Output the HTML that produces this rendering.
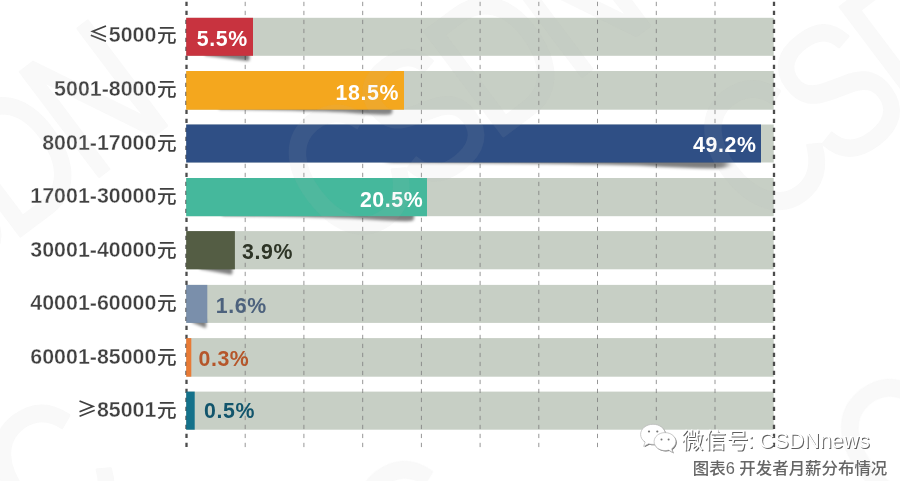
<!DOCTYPE html>
<html lang="zh-CN">
<head>
<meta charset="utf-8">
<title>图表6 开发者月薪分布情况</title>
<style>
html,body{margin:0;padding:0;background:#fff;}
body{width:900px;height:481px;overflow:hidden;position:relative;font-family:"Liberation Sans", "Noto Sans CJK SC", sans-serif;}
svg{display:block;position:absolute;left:0;top:0;}
.lab{font-family:"Liberation Sans", "Noto Sans CJK SC", sans-serif;font-weight:700;font-size:21.4px;fill:#404040;stroke:#fff;stroke-width:0.35px;}
.sym{font-family:"Noto Sans CJK SC", sans-serif;font-weight:500;font-size:20.3px;stroke:none;}
.yuan{font-family:"Noto Sans CJK SC", sans-serif;font-weight:500;font-size:19.6px;stroke:none;}
.val{font-family:"Liberation Sans", "Noto Sans CJK SC", sans-serif;font-weight:700;font-size:21.3px;letter-spacing:0.6px;}
.cap{font-family:"Liberation Sans", "Noto Sans CJK SC", sans-serif;font-weight:500;font-size:16.45px;fill:#666;}
.wx{font-family:"Liberation Sans", "Noto Sans CJK SC", sans-serif;font-weight:400;font-size:21.4px;}
.wxc{font-size:22px;letter-spacing:0.5px;}
.wm{font-family:"Liberation Sans", "Noto Sans CJK SC", sans-serif;font-weight:400;font-size:190px;fill:#b4b4b4;stroke:#b4b4b4;stroke-width:3px;stroke-linejoin:round;}
#wm{opacity:0.09;}
</style>
</head>
<body>
<svg width="900" height="481" viewBox="0 0 900 481">

<rect x="186.2" y="17.80" width="587.5" height="38.00" fill="#c7cfc5"/>
<rect x="186.2" y="71.00" width="587.5" height="38.70" fill="#c7cfc5"/>
<rect x="186.2" y="124.50" width="587.5" height="38.00" fill="#c7cfc5"/>
<rect x="186.2" y="178.00" width="587.5" height="38.20" fill="#c7cfc5"/>
<rect x="186.2" y="231.10" width="587.5" height="38.20" fill="#c7cfc5"/>
<rect x="186.2" y="284.90" width="587.5" height="38.00" fill="#c7cfc5"/>
<rect x="186.2" y="338.10" width="587.5" height="38.60" fill="#c7cfc5"/>
<rect x="186.2" y="391.60" width="587.5" height="38.10" fill="#c7cfc5"/>
<line x1="245.2" y1="1.8" x2="245.2" y2="447.2" stroke="#7d7d7d" stroke-width="1" stroke-dasharray="4.3 4.7" opacity="0.8"/>
<line x1="303.9" y1="1.8" x2="303.9" y2="447.2" stroke="#7d7d7d" stroke-width="1" stroke-dasharray="4.3 4.7" opacity="0.8"/>
<line x1="362.7" y1="1.8" x2="362.7" y2="447.2" stroke="#7d7d7d" stroke-width="1" stroke-dasharray="4.3 4.7" opacity="0.8"/>
<line x1="421.4" y1="1.8" x2="421.4" y2="447.2" stroke="#7d7d7d" stroke-width="1" stroke-dasharray="4.3 4.7" opacity="0.8"/>
<line x1="480.1" y1="1.8" x2="480.1" y2="447.2" stroke="#7d7d7d" stroke-width="1" stroke-dasharray="4.3 4.7" opacity="0.8"/>
<line x1="538.8" y1="1.8" x2="538.8" y2="447.2" stroke="#7d7d7d" stroke-width="1" stroke-dasharray="4.3 4.7" opacity="0.8"/>
<line x1="597.5" y1="1.8" x2="597.5" y2="447.2" stroke="#7d7d7d" stroke-width="1" stroke-dasharray="4.3 4.7" opacity="0.8"/>
<line x1="656.3" y1="1.8" x2="656.3" y2="447.2" stroke="#7d7d7d" stroke-width="1" stroke-dasharray="4.3 4.7" opacity="0.8"/>
<line x1="715.0" y1="1.8" x2="715.0" y2="447.2" stroke="#7d7d7d" stroke-width="1" stroke-dasharray="4.3 4.7" opacity="0.8"/>
<line x1="186.5" y1="1.8" x2="186.5" y2="447.2" stroke="#4c4c4c" stroke-width="2.3" stroke-dasharray="4.2 4.8"/>
<line x1="774.0" y1="1.8" x2="774.0" y2="447.2" stroke="#4c4c4c" stroke-width="2.3" stroke-dasharray="4.2 4.8"/>
<filter id="sh17" x="-10%" y="-100%" width="125%" height="400%"><feGaussianBlur stdDeviation="2.246 1.5"/></filter>
<g transform="translate(186.2,55.8) scale(0.6680,1)"><path d="M28,-3 L94.8,-3 L94.8,3.6 Q94.6,5.2 91,5.1 L28,-0.4 Z" fill="#000" opacity="0.5" filter="url(#sh17)"/></g>
<rect x="186.2" y="17.80" width="66.8" height="38.00" fill="#c8333f"/>
<text class="val" x="222.30" y="45.5" text-anchor="middle" fill="#ffffff">5.5%</text>
<text class="lab" x="176.6" y="41.6" text-anchor="end"><tspan class="sym">≤</tspan>5000<tspan class="yuan" dx="0.6">元</tspan></text>
<filter id="sh71" x="-10%" y="-100%" width="125%" height="400%"><feGaussianBlur stdDeviation="0.826 1.5"/></filter>
<g transform="translate(186.2,109.7) scale(2.1780,1)"><path d="M15,-3 L94.6,-3 L94.6,2.6 Q94.6,5.1 91.5,5.1 Q84,4.8 72,2.6 Q55,0.6 15,-0.4 Z" fill="#000" opacity="0.5" filter="url(#sh71)"/></g>
<rect x="186.2" y="71.00" width="217.8" height="38.70" fill="#f4a71e"/>
<text class="val" x="367.30" y="99.7" text-anchor="middle" fill="#ffffff">18.5%</text>
<text class="lab" x="176.6" y="95.7" text-anchor="end">5001-8000<tspan class="yuan" dx="0.6">元</tspan></text>
<filter id="sh124" x="-10%" y="-100%" width="125%" height="400%"><feGaussianBlur stdDeviation="0.609 1.5"/></filter>
<g transform="translate(186.2,162.5) scale(5.7480,1)"><path d="M35,-3 L94.2,-3 L94.2,2.8 Q94.2,5.9 92.2,5.9 Q86,5.8 79,3 Q70,1 35,0 Z" fill="#000" opacity="0.5" filter="url(#sh124)"/></g>
<rect x="186.2" y="124.50" width="574.8" height="38.00" fill="#2f4f85"/>
<text class="val" x="724.80" y="152.3" text-anchor="middle" fill="#ffffff">49.2%</text>
<text class="lab" x="176.6" y="149.8" text-anchor="end">8001-17000<tspan class="yuan" dx="0.6">元</tspan></text>
<filter id="sh178" x="-10%" y="-100%" width="125%" height="400%"><feGaussianBlur stdDeviation="0.748 1.5"/></filter>
<g transform="translate(186.2,216.2) scale(2.4080,1)"><path d="M15,-3 L94.6,-3 L94.6,2.6 Q94.6,5.1 91.5,5.1 Q84,4.8 72,2.6 Q55,0.6 15,-0.4 Z" fill="#000" opacity="0.5" filter="url(#sh178)"/></g>
<rect x="186.2" y="178.00" width="240.8" height="38.20" fill="#45b89c"/>
<text class="val" x="391.60" y="206.8" text-anchor="middle" fill="#ffffff">20.5%</text>
<text class="lab" x="176.6" y="203.4" text-anchor="end">17001-30000<tspan class="yuan" dx="0.6">元</tspan></text>
<filter id="sh231" x="-10%" y="-100%" width="125%" height="400%"><feGaussianBlur stdDeviation="3.080 1.5"/></filter>
<g transform="translate(186.2,269.3) scale(0.4870,1)"><path d="M28,-3 L94.8,-3 L94.8,3.6 Q94.6,5.2 91,5.1 L28,-0.4 Z" fill="#000" opacity="0.5" filter="url(#sh231)"/></g>
<rect x="186.2" y="231.10" width="48.7" height="38.20" fill="#545d44"/>
<text class="val" x="267.50" y="258.9" text-anchor="middle" fill="#2d3426">3.9%</text>
<text class="lab" x="176.6" y="256.9" text-anchor="end">30001-40000<tspan class="yuan" dx="0.6">元</tspan></text>
<filter id="sh284" x="-10%" y="-100%" width="125%" height="400%"><feGaussianBlur stdDeviation="7.109 1.5"/></filter>
<g transform="translate(186.2,322.9) scale(0.2110,1)"><path d="M28,-3 L94.8,-3 L94.8,3.6 Q94.6,5.2 91,5.1 L28,-0.4 Z" fill="#000" opacity="0.5" filter="url(#sh284)"/></g>
<rect x="186.2" y="284.90" width="21.1" height="38.00" fill="#7a8fab"/>
<text class="val" x="241.30" y="312.7" text-anchor="middle" fill="#4d627d">1.6%</text>
<text class="lab" x="176.6" y="310.4" text-anchor="end">40001-60000<tspan class="yuan" dx="0.6">元</tspan></text>
<rect x="186.2" y="338.10" width="5.1" height="38.60" fill="#e87b36"/>
<text class="val" x="223.95" y="366.3" text-anchor="middle" fill="#b5562a">0.3%</text>
<text class="lab" x="176.6" y="363.8" text-anchor="end">60001-85000<tspan class="yuan" dx="0.6">元</tspan></text>
<rect x="186.2" y="391.60" width="8.5" height="38.10" fill="#14718a"/>
<text class="val" x="229.50" y="418.4" text-anchor="middle" fill="#12556c">0.5%</text>
<text class="lab" x="176.6" y="417.0" text-anchor="end"><tspan class="sym">≥</tspan>85001<tspan class="yuan" dx="0.6">元</tspan></text>
<g id="wm" class="wm">
<text transform="translate(342.2,257.3) rotate(-37) scale(0.8,1)" textLength="497" x="0" y="0">CSDN</text>
<text transform="translate(757.7,232.7) rotate(-37) scale(0.8,1)" textLength="497" x="0" y="0">CSDN</text>
<text transform="translate(-140.8,357.3) rotate(-37) scale(0.8,1)" textLength="497" x="0" y="0">CSDN</text>
<text transform="translate(47.2,557.3) rotate(-37) scale(0.8,1)" x="0" y="0">C</text>
<text transform="translate(894.2,531.3) rotate(-37) scale(0.8,1)" x="0" y="0">C</text>
<text transform="translate(409.2,613.3) rotate(-37) scale(0.8,1)" x="0" y="0">C</text>
</g>
<g id="wechat">
<g fill="#6a6a6a" transform="translate(0.9,0.9)"><path d="M653 424.3c-6.900 0-12.400 4.500-12.400 10.100 0 3.100 1.700 5.900 4.500 7.700l-1.500 4.300 5-2.600c1.400.400 2.900.600 4.400.600 6.900 0 12.400-4.500 12.400-10.100S659.900 424.300 653 424.300z"/><path d="M665 432.600c-6 0-10.900 4-10.900 9s4.900 9 10.900 9c1.300 0 2.500-.2 3.600-.5l4.300 2.600-1.200-3.900c2.600-1.700 4.200-4.300 4.200-7.200 0-5-4.900-9-10.900-9z"/></g>
<g fill="#ffffff" stroke="#b4b4b4" stroke-width="0.7"><path d="M653 424.3c-6.900 0-12.400 4.500-12.400 10.100 0 3.100 1.700 5.900 4.500 7.700l-1.500 4.300 5-2.600c1.400.400 2.900.600 4.400.600 6.900 0 12.400-4.500 12.400-10.100S659.900 424.300 653 424.300z"/><path d="M665 432.600c-6 0-10.900 4-10.900 9s4.900 9 10.900 9c1.300 0 2.500-.2 3.600-.5l4.300 2.600-1.200-3.900c2.600-1.700 4.200-4.300 4.200-7.200 0-5-4.900-9-10.900-9z"/></g>
<g fill="#777"><circle cx="649" cy="431.500" r="1.100"/><circle cx="657.300" cy="431.500" r="1.100"/><circle cx="661.500" cy="439.600" r="1"/><circle cx="668.600" cy="439.600" r="1"/></g>
</g>
<text class="wx" x="682.6" y="449.0" fill="#5e5e5e"><tspan class="wxc">微信号</tspan><tspan dx="-1.3" dy="-0.5">: </tspan><tspan dx="-0.6">CSDNnews</tspan></text>
<text class="wx" x="681.6" y="448.0" fill="#ffffff"><tspan class="wxc">微信号</tspan><tspan dx="-1.3" dy="-0.5">: </tspan><tspan dx="-0.6">CSDNnews</tspan></text>
<text class="cap" x="887.3" y="474" text-anchor="end">图表6 开发者月薪分布情况</text>
</svg>
</body>
</html>
